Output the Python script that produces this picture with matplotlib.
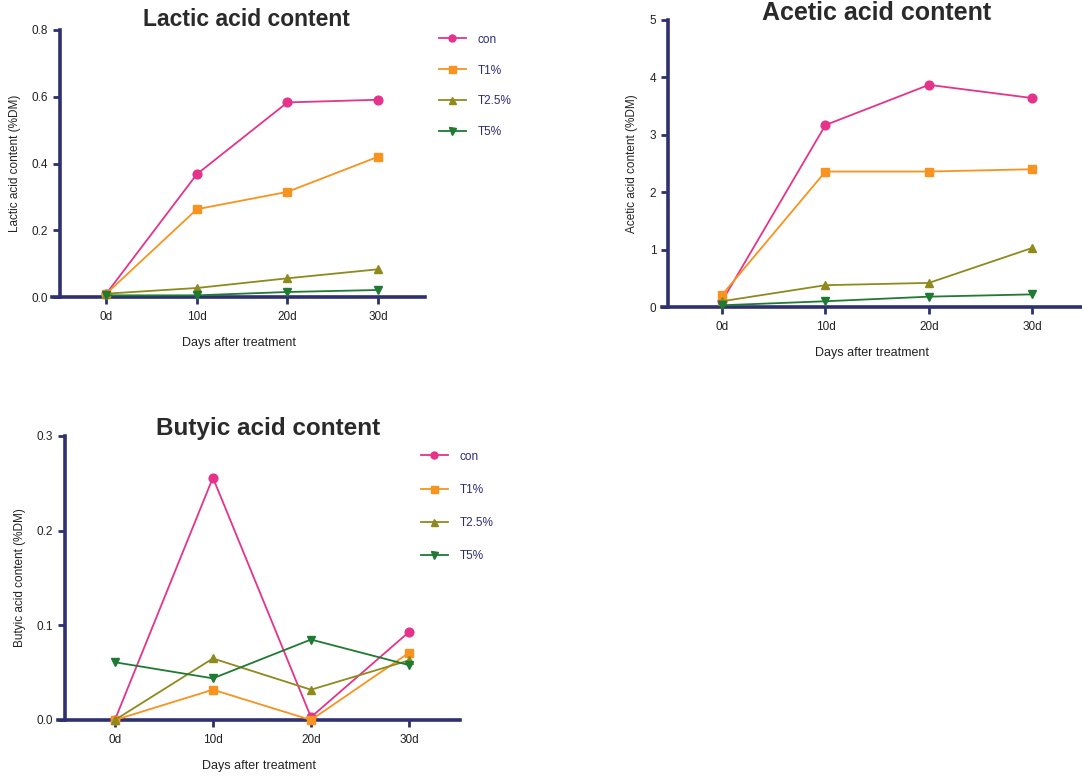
import matplotlib
matplotlib.use("Agg")
import matplotlib.pyplot as plt

plt.rcParams['font.family'] = ['Liberation Sans', 'DejaVu Sans']

# Sampling days and treatment groups
days = ["0d", "10d", "20d", "30d"]
groups = ["con", "T1%", "T2.5%", "T5%"]

# Lactic acid content (%DM)
lactic_con = [0.010, 0.368, 0.583, 0.591]
lactic_t1 = [0.010, 0.263, 0.315, 0.420]
lactic_t25 = [0.010, 0.027, 0.056, 0.083]
lactic_t5 = [0.005, 0.005, 0.015, 0.021]

# Acetic acid content (%DM)
acetic_con = [0.10, 3.17, 3.87, 3.64]
acetic_t1 = [0.21, 2.36, 2.36, 2.40]
acetic_t25 = [0.10, 0.38, 0.42, 1.03]
acetic_t5 = [0.03, 0.10, 0.18, 0.22]

# Butyric acid content (%DM)
butyric_con = [0.000, 0.256, 0.003, 0.093]
butyric_t1 = [0.000, 0.032, 0.000, 0.071]
butyric_t25 = [0.000, 0.065, 0.032, 0.063]
butyric_t5 = [0.061, 0.044, 0.085, 0.058]

colors = ["#E5338B", "#F7931E", "#8E8A1C", "#1F7A33"]
markers = ["o", "s", "^", "v"]
axis_color = "#2E3070"
text_color = "#222222"

fig = plt.figure(figsize=(10.82, 7.77), dpi=100)
W, H = 1082, 777


def frac_axes(left, yaxis_x, right, top, bottom):
    """Axes whose x-axis runs from `left` to `right` with the y-axis at `yaxis_x` (pixels)."""
    ax = fig.add_axes([left / W, 1 - bottom / H, (right - left) / W, (bottom - top) / H])
    ax.spines["left"].set_position(("axes", (yaxis_x - left) / (right - left)))
    return ax


def style(ax, title, title_xy, title_size, ylabel, ylim, yticks, yfmt, xlim):
    ax.set_xlim(*xlim)
    ax.set_ylim(*ylim)
    ax.set_xticks(range(len(days)))
    ax.set_xticklabels(days)
    ax.set_yticks(yticks)
    ax.set_yticklabels([yfmt.format(v) for v in yticks])
    for s in ("top", "right"):
        ax.spines[s].set_visible(False)
    for s in ("left", "bottom"):
        ax.spines[s].set_color(axis_color)
        ax.spines[s].set_linewidth(2.6)
    ax.tick_params(axis="both", colors=axis_color, width=2, length=5,
                   labelcolor=text_color, labelsize=8.5, direction="out")
    ax.tick_params(axis="x", pad=5)
    fig.text(title_xy[0] / W, 1 - title_xy[1] / H, title, fontsize=title_size,
             fontweight="bold", color="#2a2a2a", ha="center", va="center")
    ax.set_ylabel(ylabel, fontsize=8.5, color=text_color, labelpad=8)
    ax.set_xlabel("Days after treatment", fontsize=9, color=text_color, labelpad=10)
    ax.patch.set_alpha(0)


def draw(ax, series):
    handles = []
    for vals, c, m, g in zip(series, colors, markers, groups):
        h, = ax.plot(range(len(days)), vals, color=c, marker=m, markersize=6.3,
                     linewidth=1.3, label=g, clip_on=False, zorder=3)
        handles.append(h)
    return handles


def legend(ax, handles, x, y, spacing):
    leg = ax.legend(handles, groups, loc="upper left", bbox_to_anchor=(x / W, 1 - y / H),
                    bbox_transform=fig.transFigure, frameon=False, fontsize=8.5,
                    labelspacing=spacing, handlelength=2.3, handletextpad=1.0,
                    markerscale=0.8)
    for t in leg.get_texts():
        t.set_color("#2b2b78")


# Lactic acid panel
ax1 = frac_axes(52, 60, 425, 30, 297)
h1 = draw(ax1, [lactic_con, lactic_t1, lactic_t25, lactic_t5])
style(ax1, "Lactic acid content", (246, 20), 16.5, "Lactic acid content (%DM)",
      (0, 0.8), [0.0, 0.2, 0.4, 0.6, 0.8], "{:.1f}", (-0.6, 3.52))
legend(ax1, h1, 428, 23, 1.6)

# Acetic acid panel
ax2 = frac_axes(662, 668, 1082, 20, 307)
draw(ax2, [acetic_con, acetic_t1, acetic_t25, acetic_t5])
style(ax2, "Acetic acid content", (877, 13), 18, "Acetic acid content (%DM)",
      (0, 5), [0, 1, 2, 3, 4, 5], "{:.0f}", (-0.58, 3.48))

# Butyric acid panel
ax3 = frac_axes(58, 65, 460, 436, 720)
h3 = draw(ax3, [butyric_con, butyric_t1, butyric_t25, butyric_t5])
style(ax3, "Butyic acid content", (268, 428), 17.5, "Butyic acid content (%DM)",
      (0, 0.3), [0.0, 0.1, 0.2, 0.3], "{:.1f}", (-0.58, 3.52))
legend(ax3, h3, 410, 440, 1.8)

fig.savefig("out.png", dpi=100)
